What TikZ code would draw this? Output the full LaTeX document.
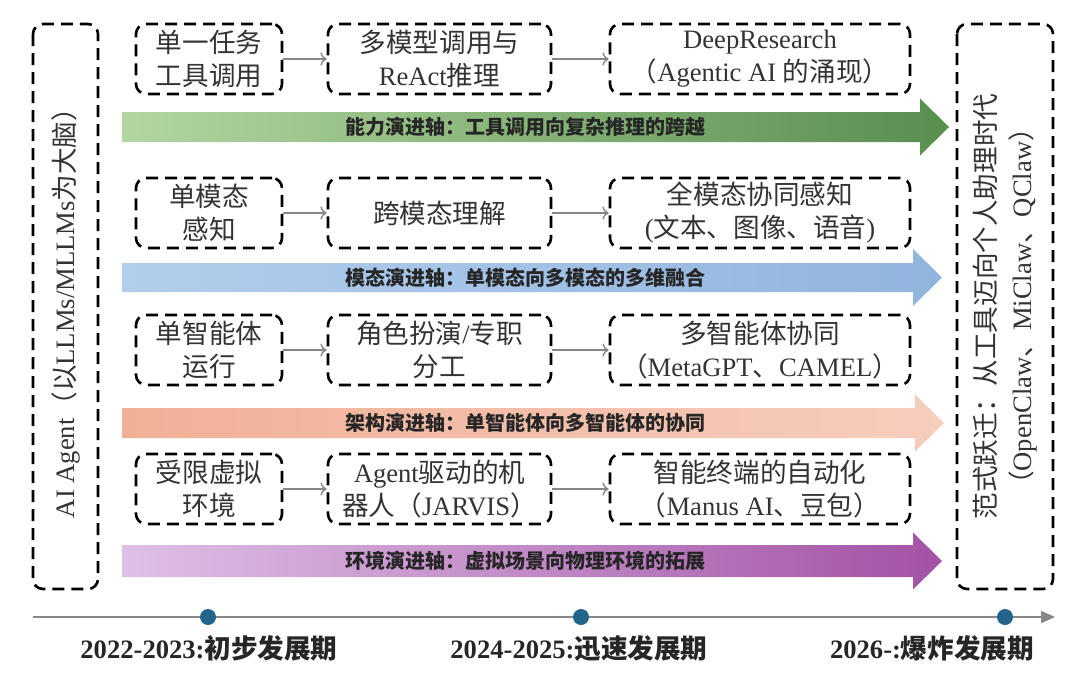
\documentclass[tikz,border=0pt]{standalone}
\usepackage{fontspec}
\setmainfont{Liberation Serif}
\newfontfamily\cjk{Noto Sans CJK SC}
\usetikzlibrary{arrows.meta}
\newcommand\zh[1]{{\cjk #1}}
\definecolor{grnL}{RGB}{178,214,160}\definecolor{grnR}{RGB}{88,143,78}
\definecolor{bluL}{RGB}{178,206,236}\definecolor{bluR}{RGB}{145,180,222}
\definecolor{salL}{RGB}{240,176,150}\definecolor{salR}{RGB}{246,206,190}
\definecolor{purL}{RGB}{222,192,230}\definecolor{purR}{RGB}{163,82,165}
\definecolor{tlgray}{RGB}{135,135,135}\definecolor{dotc}{RGB}{35,100,140}
\tikzset{
 box/.style={draw,line width=1.3pt,dash pattern=on 6pt off 3.5pt,rounded corners=5pt,
  align=center,inner sep=0pt,text=black!80,font=\fontsize{13.3}{16.5}\selectfont},
 conn/.style={->,draw=tlgray,line width=.7pt},
 axlab/.style={font=\cjk\bfseries\fontsize{10}{12}\selectfont,text=black!85},
 dot/.style={circle,fill=dotc,inner sep=0pt,minimum size=8pt},
 yearlab/.style={font=\bfseries\fontsize{13.3}{16}\selectfont,text=black!85}
}
\begin{document}
\begin{tikzpicture}[x=.5pt,y=-.5pt]
\useasboundingbox (0,0) rectangle (1080,681);
% side boxes
\node[box,rotate=90,minimum width=282.5pt,minimum height=32.5pt] (agent) at (65.5,306.5)
 {AI Agent\zh{（以}LLMs/MLLMs\zh{为大脑）}};
\node[box,rotate=90,minimum width=282.5pt,minimum height=48pt,font=\fontsize{13.3}{18}\selectfont] (era) at (1005,306.5)
 {\zh{范式跃迁：从工具迈向个人助理时代}\\\zh{（}OpenClaw\zh{、}MiClaw\zh{、}QClaw\zh{）}};
% row boxes
\tikzset{every node/.append style={minimum height=35pt}}
\node[box,minimum width=73pt] (a1) at (209,59) {\zh{单一任务}\\\zh{工具调用}};
\node[box,minimum width=111.5pt] (b1) at (439.5,59) {\zh{多模型调用与}\\ReAct\zh{推理}};
\node[box,minimum width=150pt] (c1) at (760,59) {DeepResearch\\\zh{（}Agentic AI \zh{的涌现）}};
\node[box,minimum width=73pt] (a2) at (209,213) {\zh{单模态}\\\zh{感知}};
\node[box,minimum width=111.5pt] (b2) at (439.5,213) {\zh{跨模态理解}};
\node[box,minimum width=150pt] (c2) at (760,213) {\zh{全模态协同感知}\\(\zh{文本、图像、语音})};
\node[box,minimum width=73pt] (a3) at (209,350) {\zh{单智能体}\\\zh{运行}};
\node[box,minimum width=111.5pt] (b3) at (439.5,350) {\zh{角色扮演}/\zh{专职}\\\zh{分工}};
\node[box,minimum width=150pt] (c3) at (760,350) {\zh{多智能体协同}\\\zh{（}MetaGPT\zh{、}CAMEL\zh{）}};
\node[box,minimum width=73pt] (a4) at (209,489) {\zh{受限虚拟}\\\zh{环境}};
\node[box,minimum width=111.5pt] (b4) at (439.5,489) {Agent\zh{驱动的机}\\\zh{器人（}JARVIS\zh{）}};
\node[box,minimum width=150pt] (c4) at (760,489) {\zh{智能终端的自动化}\\\zh{（}Manus AI\zh{、豆包）}};
\tikzset{every node/.append style={minimum height=0pt}}
\foreach \r in {1,...,4}{\draw[conn](a\r)--(b\r);\draw[conn](b\r)--(c\r);}
% evolution axes
\foreach \yc/\hh/\xh/\cl/\cr/\tx [count=\i] in {
 127/15/920/grnL/grnR/能力演进轴：工具调用向复杂推理的跨越,
 277.5/14.5/913/bluL/bluR/模态演进轴：单模态向多模态的多维融合,
 423/15/915/salL/salR/架构演进轴：单智能体向多智能体的协同,
 561/16/913/purL/purR/环境演进轴：虚拟场景向物理环境的拓展}{
 \shade[left color=\cl,right color=\cr](122,\yc-\hh)--(\xh,\yc-\hh)--(\xh,\yc-28.5)--(\xh+29,\yc)
  --(\xh,\yc+28.5)--(\xh,\yc+\hh)--(122,\yc+\hh)--cycle;
 \node[axlab] (ax\i) at (525,\yc) {\tx};}
% timeline
\coordinate (t0) at (33,617);\coordinate (t1) at (1055,617);
\draw[tlgray,line width=1pt,-{Triangle[length=7pt,width=6pt]}](t0)--(t1);
\node[dot] (d1) at (208,617) {};\node[dot] (d2) at (581,617) {};\node[dot] (d3) at (1005,617) {};
\node[yearlab] (y1) at (209,648) {2022-2023:\zh{初步发展期}};
\node[yearlab] (y2) at (579,648) {2024-2025:\zh{迅速发展期}};
\node[yearlab] (y3) at (932,648) {2026-:\zh{爆炸发展期}};
\end{tikzpicture}
\end{document}
